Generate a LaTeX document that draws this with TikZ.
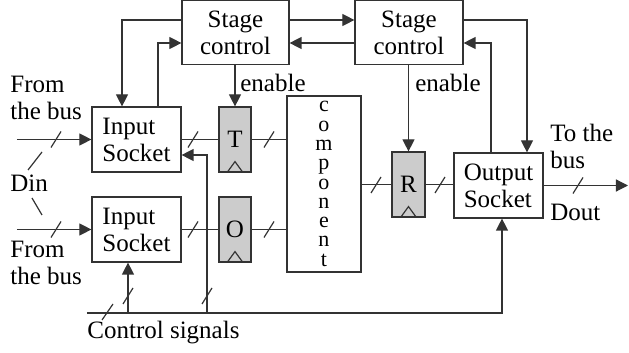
\documentclass[tikz,border=0pt]{standalone}
\usepackage{fontspec}
\setmainfont{Liberation Serif}
\usetikzlibrary{arrows.meta}

\begin{document}
\begin{tikzpicture}[x=0.5pt,y=-0.5pt,
  line/.style={draw=black!80,line width=0.6pt},
  sig/.style={line,-{Triangle[length=6pt,width=6pt]}},
  box/.style={line,rectangle,inner sep=0pt,font=\fontsize{12.5}{13.5}\selectfont,align=left},
  reg/.style={box,fill=black!20,minimum width=16pt,minimum height=32.5pt},
  label/.style={font=\fontsize{12.5}{13.5}\selectfont,inner sep=0pt,align=left,anchor=west},
]
\useasboundingbox (0,0) rectangle (629,353);
% stage controllers
\node[box,align=center,minimum width=53.5pt,minimum height=32pt] (sc1) at (235.5,32.5) {Stage\\control};
\node[box,align=center,minimum width=54pt,minimum height=32pt] (sc2) at (409,32.5) {Stage\\control};
% sockets, registers, component
\node[box,minimum width=44.5pt,minimum height=32.5pt] (is1) at (136.5,139.5) {Input\\Socket};
\node[box,minimum width=44.5pt,minimum height=32.5pt] (is2) at (136.5,229.5) {Input\\Socket};
\node[reg] (regT) at (235,139.5) {T};
\node[reg] (regO) at (235,229.5) {O};
\node[box,align=center,minimum width=37pt,minimum height=88pt,font=\fontsize{11}{9.65}\selectfont] (comp) at (324,184)
  {c\\o\\m\\p\\o\\n\\e\\n\\t};
\node[reg,minimum width=16.5pt] (regR) at (408.5,184.5) {R};
\node[box,minimum width=44.5pt,minimum height=32.5pt] (os) at (498.5,185.5) {Output\\Socket};
\foreach \r in {regT,regO,regR}{\draw[line] ([xshift=-4pt]\r.south) -- ([yshift=5.5pt]\r.south) -- ([xshift=4pt]\r.south);}
% free ends
\coordinate (in1) at (17,139.5);
\coordinate (in2) at (17,229.5);
\coordinate (out) at (628,185.5);
\coordinate (ctl) at (87,313);
% handshake between stages
\draw[sig] (sc1.east |- 0,20) -- (sc2.west |- 0,20);
\draw[sig] (sc2.west |- 0,43) -- (sc1.east |- 0,43);
\draw[sig] (sc1.west |- 0,20) -| (122,0 |- is1.north);
\draw[sig] (158,0 |- is1.north) |- (sc1.west |- 0,43);
\draw[sig] (sc2.east |- 0,20) -| (527,0 |- os.north);
\draw[sig] (491,0 |- os.north) |- (sc2.east |- 0,43);
\draw[sig] (sc1.south -| regT.north) -- (regT.north);
\draw[sig] (sc2.south -| regR.north) -- (regR.north);
% data path
\draw[sig] (in1) -- (is1.west);
\draw[sig] (in2) -- (is2.west);
\draw[line] (is1.east) -- (regT.west);
\draw[line] (is2.east) -- (regO.west);
\draw[line] (regT.east) -- (comp.west |- regT.east);
\draw[line] (regO.east) -- (comp.west |- regO.east);
\draw[line] (comp.east |- regR.west) -- (regR.west);
\draw[line] (regR.east) -- (os.west |- regR.east);
\draw[sig] (os.east) -- (out);
% control signals
\draw[sig] (ctl) -| (502,0 |- os.south);
\draw[sig] (128,0 |- ctl) -- (128,0 |- is2.south);
\draw[sig] (207,0 |- ctl) |- (is1.east |- 0,155);
\foreach \x/\y in {56/139.5,193/139.5,269/139.5,56/229.5,193/229.5,269/229.5,376/185,440/185,578/185.5,128/296,207/296}{\draw[line] (\x,\y) ++(-5,8) -- ++(10,-16);}
\draw[line] (28,170) -- (42,152);
\draw[line] (32,198) -- (42,215);
\draw[line] (102,320) -- (113,304);
% labels
\node[label] (en1) at (240,83) {enable};
\node[label] (en2) at (415,83) {enable};
\node[label] (from1) at (10,98) {From\\the bus};
\node[label] (din) at (10,183) {Din};
\node[label] (from2) at (10,263) {From\\the bus};
\node[label] (ctltxt) at (87,333) {Control signals};
\node[label] (tobus) at (550,146) {To the\\bus};
\node[label] (dout) at (550,212) {Dout};
\end{tikzpicture}
\end{document}
